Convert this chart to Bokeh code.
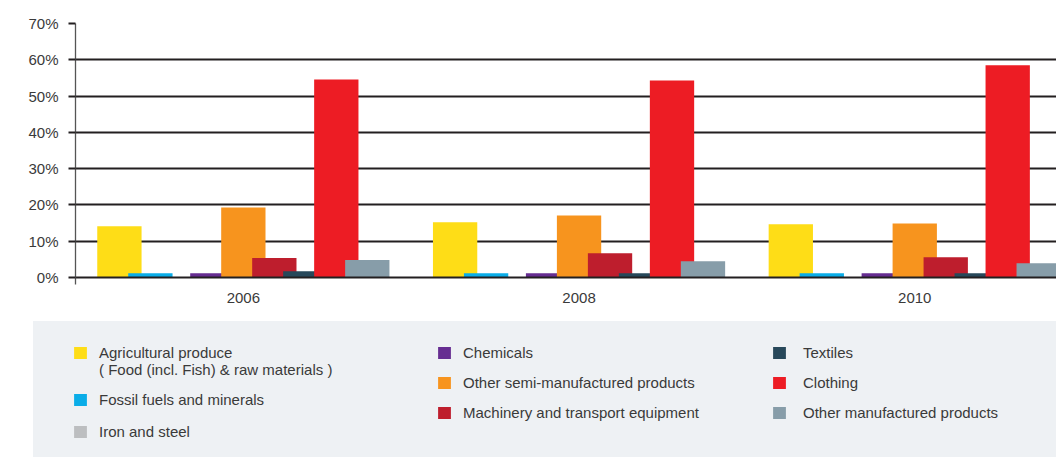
from bokeh.plotting import figure
from bokeh.models import ColumnDataSource, Range1d, FixedTicker, Legend, LegendItem, Spacer
from bokeh.layouts import column, row
from bokeh.transform import dodge
from bokeh.embed import file_html
from bokeh.resources import INLINE

# ---- data ----
years = ["2006", "2008", "2010"]
series_labels = [
    "Agricultural produce",
    "Fossil fuels and minerals",
    "Iron and steel",
    "Chemicals",
    "Other semi-manufactured products",
    "Machinery and transport equipment",
    "Textiles",
    "Clothing",
    "Other manufactured products",
]
agri_subtitle = "( Food (incl. Fish) & raw materials )"
series_keys = ["agri", "fossil", "iron", "chem", "semi", "mach", "text", "cloth", "other"]
agricultural = [14.1, 15.2, 14.7]
fossil_fuels = [1.2, 1.2, 1.2]
iron_steel = [0.0, 0.0, 0.0]
chemicals = [1.2, 1.2, 1.2]
other_semi = [19.3, 17.1, 14.9]
machinery = [5.4, 6.7, 5.6]
textiles = [1.7, 1.2, 1.2]
clothing = [54.6, 54.3, 58.5]
other_manuf = [4.8, 4.5, 3.9]
y_ticks = [0, 10, 20, 30, 40, 50, 60, 70]
y_tick_labels = ["0%", "10%", "20%", "30%", "40%", "50%", "60%", "70%"]

colors = ["#FEDD17", "#0AADE8", "#BCBEC0", "#662D91", "#F7941E",
          "#BE1E2D", "#27485A", "#ED1C24", "#879DA9"]

FONT = "Liberation Sans"
TXT = "#3a3a3a"
LINE = "#231f20"

values = [agricultural, fossil_fuels, iron_steel, chemicals, other_semi,
          machinery, textiles, clothing, other_manuf]
data = {"year": years, "x": [i + 0.5 for i in range(len(years))]}
for k, v in zip(series_keys, values):
    data[k] = v
src = ColumnDataSource(data)

W = 1056
step = 0.0923
bw = 0.132

p = figure(width=W, height=321, output_backend="svg", toolbar_location=None,
           x_range=Range1d(0, 981 / 335.7), y_range=Range1d(0, 70),
           min_border_left=75, min_border_right=0, min_border_top=23,
           min_border_bottom=44)
p.outline_line_color = None
p.xgrid.visible = False
p.ygrid.ticker = FixedTicker(ticks=y_ticks)
p.ygrid.grid_line_color = LINE
p.ygrid.grid_line_width = 2

for j, (k, c) in enumerate(zip(series_keys, colors)):
    p.vbar(x=dodge("x", (j - 4) * step), top=k, width=bw, source=src,
           fill_color=c, line_color=None)

yax = p.yaxis[0]
yax.ticker = FixedTicker(ticks=y_ticks)
yax.major_label_overrides = {t: l for t, l in zip(y_ticks, y_tick_labels)}
yax.axis_line_color = "#555555"
yax.axis_line_width = 1.3
yax.major_tick_out = 7
yax.major_tick_in = 0
yax.major_tick_line_color = LINE
yax.major_tick_line_width = 2
yax.minor_tick_line_color = None
yax.major_label_standoff = 10
yax.major_label_text_font = FONT
yax.major_label_text_font_size = "15px"
yax.major_label_text_color = TXT

xax = p.xaxis[0]
xax.ticker = FixedTicker(ticks=data["x"], minor_ticks=[0])
xax.major_label_overrides = {x: y for x, y in zip(data["x"], years)}
xax.axis_line_color = LINE
xax.axis_line_width = 2
xax.major_tick_line_color = None
xax.major_tick_out = 0
xax.major_tick_in = 0
xax.minor_tick_out = 7
xax.minor_tick_in = 0
xax.minor_tick_line_color = "#555555"
xax.minor_tick_line_width = 1.3
xax.major_label_standoff = 8
xax.major_label_text_font = FONT
xax.major_label_text_font_size = "15px"
xax.major_label_text_color = TXT

# ---- legend panel ----
BG = "#eef1f4"
LH = 136


def make_legend(f, entries, location, standoff, spacing):
    items = []
    for label, color, alpha in entries:
        # swatch-only renderer (its point lies outside the visible range)
        r = f.vbar(x=[10], top=[1], width=1, fill_color=color, fill_alpha=alpha,
                   line_color=None)
        items.append(LegendItem(label=label, renderers=[r]))
    lg = Legend(items=items, location=location, margin=0, padding=0,
                border_line_color=None, background_fill_alpha=0,
                glyph_width=16, glyph_height=15, label_standoff=standoff,
                label_height=10, spacing=spacing,
                label_text_font=FONT, label_text_font_size="15px",
                label_text_color=TXT)
    f.add_layout(lg)


def legend_fig(width, left, bottom=0):
    f = figure(width=width, height=LH, output_backend="svg", toolbar_location=None,
               x_axis_type=None, y_axis_type=None,
               x_range=Range1d(0, 1), y_range=Range1d(0, 1),
               min_border_left=left, min_border_right=0, min_border_top=23,
               min_border_bottom=bottom)
    f.outline_line_color = None
    f.background_fill_color = BG
    f.border_fill_color = BG
    return f


la = legend_fig(397, 39, bottom=17)
make_legend(la, [(series_labels[0], colors[0], 1.0), (agri_subtitle, BG, 0.0)],
            "top_left", 11, 0)
make_legend(la, [(series_labels[i], colors[i], 1.0) for i in (1, 2)],
            "bottom_left", 11, 15)

lb = legend_fig(335, 6)
make_legend(lb, [(series_labels[i], colors[i], 1.0) for i in (3, 4, 5)],
            "top_left", 11, 13)

lc = legend_fig(W - 33 - 397 - 335, 6)
make_legend(lc, [(series_labels[i], colors[i], 1.0) for i in (6, 7, 8)],
            "top_left", 16, 13)

inner = row(la, lb, lc, spacing=0, styles={"background-color": BG})
legend_row = row(Spacer(width=33, height=LH), inner, spacing=0)

layout = column(p, legend_row, spacing=0)

open("out.html", "w").write(file_html(layout, INLINE))
